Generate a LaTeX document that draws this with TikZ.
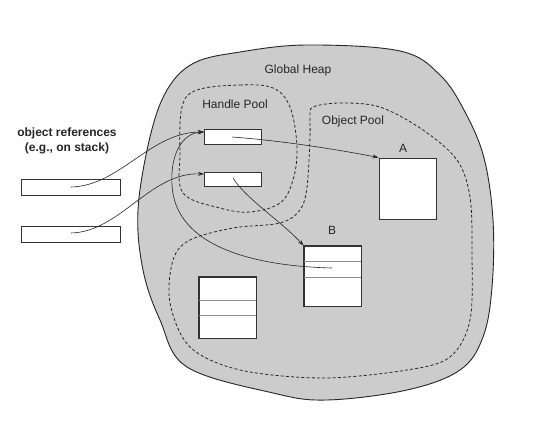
\documentclass[tikz,border=0pt]{standalone}
\usepackage{fontspec}
\setmainfont{Liberation Sans}
\usetikzlibrary{arrows.meta}
\begin{document}
\begin{tikzpicture}[x=1pt,y=-1pt,
  font=\fontsize{12}{14}\selectfont,
  box/.style={draw=black!80, fill=white, line width=0.9pt, inner sep=0pt},
  rowline/.style={draw=black!45, line width=0.8pt},
  pool/.style={draw=black!85, line width=0.8pt, dash pattern=on 3pt off 2.2pt},
  conn/.style={draw=black!85, line width=0.6pt},
  arr/.style={conn, -{Stealth[length=6pt,width=4pt]}},
  lbl/.style={inner sep=0pt, text=black!85}]
\useasboundingbox[fill=white] (0,0) rectangle (545,435);
% global heap
\draw[fill=black!20, draw=black!85, line width=0.9pt] plot[smooth cycle, tension=0.6] coordinates {
 (194,63) (240,52) (307,45) (400,51) (440,75) (465,112) (484,158) (493,220)
 (492,287) (483,337) (460,370) (407,390) (327,400) (273,393) (187,367)
 (160,320) (143,270) (138,210) (150,137) (167,90)};
\node[lbl] (gh) at (298,70) {Global Heap};
% handle pool
\draw[pool] plot[smooth cycle, tension=0.6] coordinates {
 (197,90) (240,85) (273,88) (290,107) (297,147) (293,180) (280,203)
 (250,212) (220,208) (183,193) (180,153) (182,107)};
\node[lbl] (hp) at (235,104) {Handle Pool};
% object pool
\draw[pool] plot[smooth cycle, tension=0.55] coordinates {
 (313,107) (340,103) (380,107) (423,130) (457,160) (470,197) (472,253)
 (470,320) (450,357) (407,370) (323,378) (240,370) (190,347) (170,303)
 (173,260) (190,240) (233,228) (280,223) (300,210) (307,187) (310,137) (310,117)};
\node[lbl] (op) at (353,121) {Object Pool};
% stack references
\node[lbl, align=center, font=\fontsize{12}{15}\selectfont\bfseries] (st) at (67,141) {object references\\(e.g., on stack)};
\node[box, minimum width=99pt, minimum height=16pt] (s1) at (70.5,187) {};
\node[box, minimum width=99pt, minimum height=16pt] (s2) at (70.5,234) {};
% handles
\node[box, minimum width=57pt, minimum height=15pt] (h1) at (232.5,136.5) {};
\node[box, minimum width=57pt, minimum height=14pt] (h2) at (232.5,179) {};
% objects
\node[box, minimum width=57pt, minimum height=61pt] (A) at (407.5,188.5) {};
\node[lbl] (la) at (403,148) {A};
\node[box, minimum width=57pt, minimum height=60pt] (B) at (332.5,276) {};
\node[lbl] (lb) at (332,230) {B};
\draw[rowline] (304,261) -- (361,261);
\draw[rowline] (304,277) -- (361,277);
\node[box, minimum width=57pt, minimum height=61pt] (C) at (227.5,307.5) {};
\draw[rowline] (199,300) -- (256,300);
\draw[rowline] (199,315) -- (256,315);
\draw[box, fill=none] (B.north west) rectangle (B.south east);
\draw[box, fill=none] (C.north west) rectangle (C.south east);
% connector anchors
\coordinate (s1i) at (71,187);
\coordinate (s2i) at (71,233);
\coordinate (h1i) at (232,137);
\coordinate (h2i) at (233,178);
\coordinate (bi) at (332,268);
\coordinate (h1e) at (204,132);
\coordinate (h2e) at (204,174);
% connectors
\draw[arr] (s1i) .. controls (120,186) and (150,132) .. (h1e);
\draw[arr] (s2i) .. controls (120,232) and (150,172) .. (h2e);
\draw[arr] (h1i) .. controls (285,141) and (340,150) .. (A.north west);
\draw[arr] (h2i) .. controls (245,198) and (282,222) .. (B.north west);
\draw[arr] (bi) .. controls (250,266) and (175,245) .. (172,185) .. controls (170,150) and (185,133) .. (h1e);
\end{tikzpicture}
\end{document}
